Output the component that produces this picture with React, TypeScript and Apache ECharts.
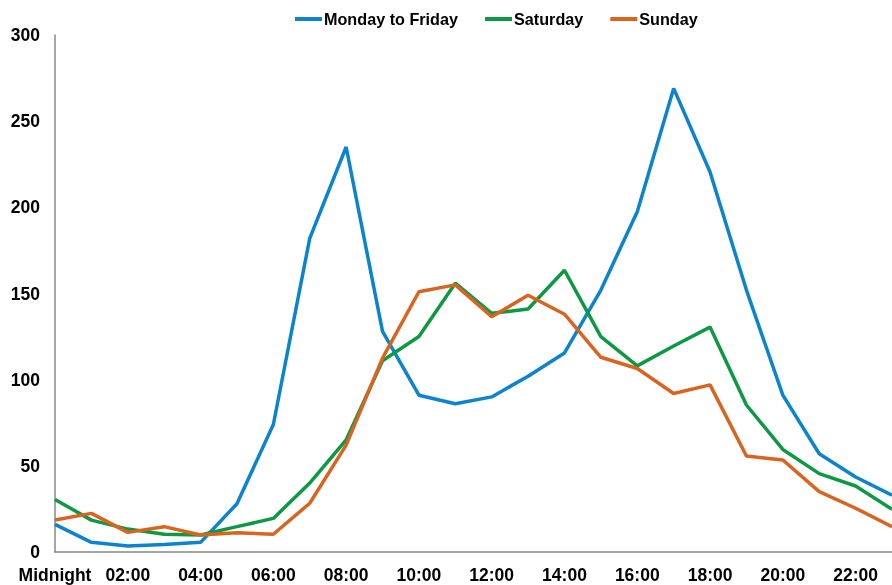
import React, { useEffect, useRef } from "react";
import * as echarts from "echarts";

const hours = [
  "Midnight", "01:00", "02:00", "03:00", "04:00", "05:00", "06:00", "07:00",
  "08:00", "09:00", "10:00", "11:00", "12:00", "13:00", "14:00", "15:00",
  "16:00", "17:00", "18:00", "19:00", "20:00", "21:00", "22:00", "23:00",
];

const mondayToFriday = [16, 5.6, 3.5, 4.4, 5.6, 28, 74, 182, 235, 128, 91, 86, 90, 102, 115.5, 152, 197.5, 269, 220.5, 152, 91, 57, 43.5, 33];
const saturday = [30.5, 18.5, 13.3, 10.3, 9.9, 14.7, 19.5, 40, 65, 111, 125, 156, 138.5, 141, 163.5, 125, 108, 119.5, 130.5, 85.3, 59.5, 45.5, 38.3, 24.8];
const sunday = [18.6, 22.4, 11.4, 14.7, 9.9, 11.2, 10.3, 28.3, 62, 112.5, 151, 155, 136.5, 149, 138, 113, 106.5, 92, 97, 55.7, 53.4, 35, 25.4, 14.7];

const yTicks = { min: 0, max: 300, interval: 50 };

export default function App() {
  const ref = useRef<HTMLDivElement>(null);
  useEffect(() => {
    if (!ref.current) return;
    const chart = echarts.init(ref.current, undefined, { renderer: "svg" });
    const font = "'Liberation Sans', Arial, sans-serif";
    chart.setOption({
      animation: false,
      legend: {
        left: 295,
        top: 11,
        padding: 0,
        icon: "rect",
        itemWidth: 27,
        itemHeight: 4,
        itemGap: 27,
        textStyle: { fontFamily: font, fontWeight: "bold", fontSize: 16.2, color: "#000", padding: [0, 0, 0, -3] },
        data: ["Monday to Friday", "Saturday", "Sunday"],
      },
      grid: { left: 55, right: 0, top: 35, bottom: 33, containLabel: false },
      xAxis: {
        type: "category",
        boundaryGap: false,
        data: hours,
        axisLine: { lineStyle: { color: "#888", width: 1.5 } },
        axisTick: { show: false },
        splitLine: { show: false },
        axisLabel: {
          interval: 1,
          margin: 14,
          fontFamily: font,
          fontWeight: "bold",
          fontSize: 17.5,
          color: "#000",
        },
      },
      yAxis: {
        type: "value",
        min: yTicks.min,
        max: yTicks.max,
        interval: yTicks.interval,
        axisLine: { show: true, lineStyle: { color: "#888", width: 1.5 } },
        axisTick: { show: false },
        splitLine: { show: false },
        axisLabel: {
          margin: 15,
          fontFamily: font,
          fontWeight: "bold",
          fontSize: 17.5,
          color: "#000",
        },
      },
      series: [
        { name: "Monday to Friday", type: "line", data: mondayToFriday, symbol: "none", lineStyle: { width: 3.5, color: "#0B84CD" }, itemStyle: { color: "#0B84CD" } },
        { name: "Saturday", type: "line", data: saturday, symbol: "none", lineStyle: { width: 3.5, color: "#0D9843" }, itemStyle: { color: "#0D9843" } },
        { name: "Sunday", type: "line", data: sunday, symbol: "none", lineStyle: { width: 3.5, color: "#D8641F" }, itemStyle: { color: "#D8641F" } },
      ],
    });
    return () => chart.dispose();
  }, []);
  return <div ref={ref} style={{ position: "fixed", left: 0, top: 0, width: 892, height: 585 }} />;
}
